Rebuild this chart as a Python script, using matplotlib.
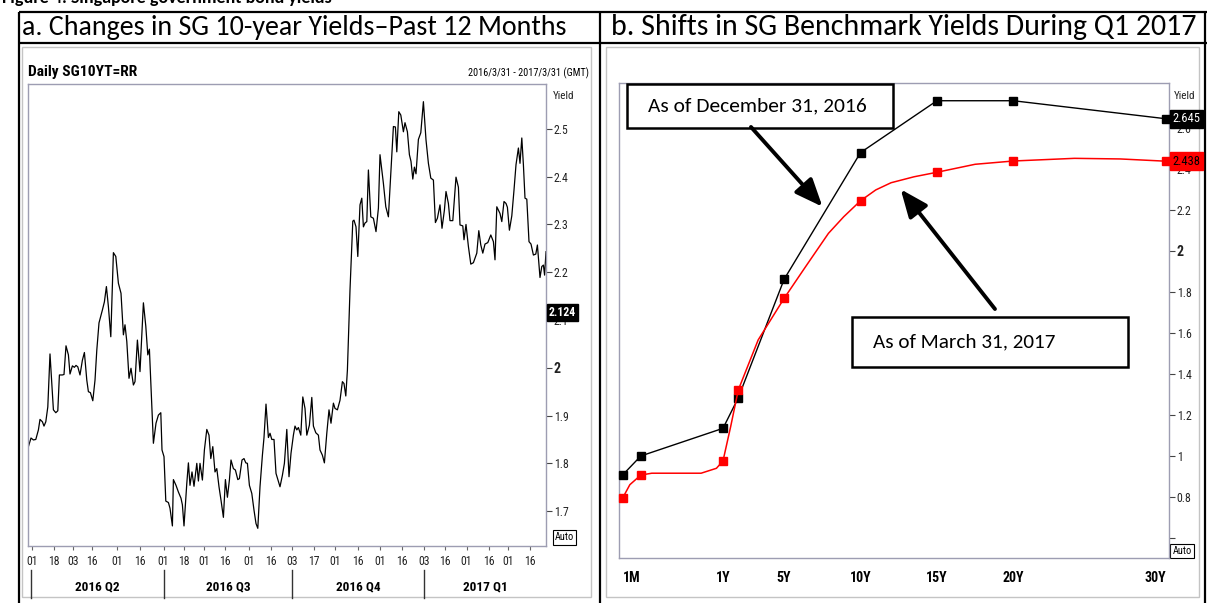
import numpy as np
import matplotlib
matplotlib.use("Agg")
import matplotlib.pyplot as plt
from matplotlib import font_manager
from matplotlib.font_manager import FontProperties
from matplotlib.patches import Rectangle
from matplotlib.ticker import NullLocator

# ---------------- Panel a data: daily SG 10Y yield (trading-session index) ----------------
session_a = [0.2, 1.5, 2.7, 3.9, 5.2, 6.0, 7.2, 8.0, 8.9, 9.9, 11.0, 12.7, 13.9, 14.9, 15.7, 17.2, 18.0, 19.0,
             20.2, 21.0, 22.2, 23.2, 24.0, 24.9, 26.0, 27.2, 28.2, 29.4, 30.2, 31.2, 32.4, 33.5, 34.4, 35.5,
             37.2, 38.2, 39.2, 40.2, 41.4, 42.7, 43.9, 45.2, 46.5, 47.7, 48.5, 49.4, 50.5, 51.5, 52.7, 53.5,
             54.7, 56.0, 57.7, 58.9, 59.9, 60.7,
             62.7, 64.0, 65.2, 66.4, 67.0, 68.0, 68.9, 70.2, 71.0, 72.2, 72.7, 74.0, 75.2, 76.5, 77.2, 78.0,
             79.4, 80.2, 81.0, 82.0, 83.0, 84.4, 85.2, 86.0, 87.2, 88.2, 89.4, 90.5, 91.4, 92.4, 93.5, 94.4,
             95.5, 96.5, 97.7, 98.7, 99.7, 100.7, 101.5, 102.7, 103.7, 104.9, 105.7, 107.0, 108.0, 108.9,
             109.7, 110.7, 111.9, 113.0, 114.0, 114.9, 116.0, 117.2, 118.0, 119.0, 120.2, 121.0, 121.9, 123.0,
             124.0, 125.0, 126.0, 127.2, 128.2, 129.4, 130.5, 131.5, 132.7, 133.5, 134.4, 135.2, 136.4, 137.4,
             138.5, 139.4, 140.7, 141.9, 142.7, 143.9, 145.2, 146.0, 147.2, 148.2, 149.4, 150.5, 151.5, 152.7,
             153.5, 154.7, 156.0, 157.2, 158.0, 158.9, 159.7,
             161.0, 162.4, 163.0, 164.0, 164.9, 166.0, 166.9, 167.7, 168.5, 169.4, 170.2, 171.4, 172.7, 174.0,
             175.2, 176.0, 177.7, 178.9, 180.2, 181.4, 182.7, 183.7, 184.4, 185.4, 186.4, 187.7, 188.5, 189.7,
             190.7, 191.5, 192.4, 193.2, 194.0, 195.2, 196.4, 197.7, 199.0, 200.2, 201.4, 202.7, 203.7, 204.7,
             206.0, 207.0, 208.2, 209.0, 210.2, 211.0, 212.4, 214.0, 215.2, 216.0, 217.4, 218.0, 219.0, 220.2,
             221.4, 222.7, 224.4, 225.4, 226.4, 227.4, 228.5, 229.9, 231.4, 232.7, 233.5, 234.4, 236.0, 236.9,
             238.0, 239.0, 239.7, 240.7, 241.9, 243.0, 244.0, 245.2, 246.0, 246.9, 247.7, 248.5, 249.4, 250.5,
             251.5, 252.7, 253.9, 254.7, 256.0, 256.9, 257.7, 258.3, 259.0]
yield_a = [1.835, 1.853, 1.849, 1.850, 1.870, 1.892, 1.887, 1.878, 1.887, 1.918, 2.029, 1.912, 1.906, 1.910,
           1.985, 1.985, 1.986, 2.046, 2.027, 1.987, 2.004, 2.001, 2.005, 2.002, 1.985, 2.016, 2.032, 1.974,
           1.950, 1.948, 1.931, 1.974, 2.037, 2.094, 2.121, 2.138, 2.170, 2.128, 2.065, 2.241, 2.233, 2.177,
           2.156, 2.069, 2.090, 2.055, 1.978, 1.999, 1.964, 1.971, 2.058, 1.992, 2.136, 2.087, 2.027, 2.039,
           1.842, 1.884, 1.901, 1.906, 1.828, 1.814, 1.721, 1.718, 1.706, 1.669, 1.766, 1.754, 1.740, 1.727,
           1.713, 1.669, 1.758, 1.801, 1.754, 1.782, 1.752, 1.800, 1.763, 1.800, 1.765, 1.828, 1.871, 1.859,
           1.810, 1.835, 1.782, 1.789, 1.751, 1.723, 1.687, 1.766, 1.729, 1.765, 1.807, 1.789, 1.786, 1.766,
           1.768, 1.807, 1.810, 1.801, 1.800, 1.754, 1.737, 1.702, 1.674, 1.664, 1.751, 1.817, 1.854, 1.924,
           1.854, 1.863, 1.850, 1.850, 1.779, 1.765, 1.751, 1.775, 1.800, 1.871, 1.772, 1.821, 1.859, 1.878,
           1.870, 1.875, 1.859, 1.939, 1.915, 1.859, 1.880, 1.938, 1.878, 1.864, 1.859, 1.828, 1.817, 1.801,
           1.863, 1.912, 1.884, 1.926, 1.915, 1.912, 1.932, 1.971, 1.967, 1.941, 1.995,
           2.163, 2.307, 2.309, 2.295, 2.233, 2.341, 2.355, 2.295, 2.303, 2.306, 2.414, 2.316, 2.313, 2.285,
           2.334, 2.446, 2.386, 2.337, 2.316, 2.407, 2.505, 2.504, 2.452, 2.536, 2.529, 2.494, 2.513, 2.494,
           2.446, 2.432, 2.395, 2.420, 2.406, 2.478, 2.492, 2.557, 2.477, 2.428, 2.397, 2.393, 2.304, 2.313,
           2.341, 2.292, 2.330, 2.369, 2.344, 2.308, 2.308, 2.399, 2.378, 2.299, 2.297, 2.268, 2.300, 2.254,
           2.217, 2.220, 2.240, 2.287, 2.257, 2.240, 2.259, 2.262, 2.278, 2.264, 2.226, 2.337, 2.323, 2.306,
           2.348, 2.344, 2.336, 2.288, 2.318, 2.372, 2.425, 2.460, 2.428, 2.481, 2.425, 2.355, 2.353, 2.264,
           2.259, 2.236, 2.238, 2.257, 2.189, 2.212, 2.215, 2.194, 2.243]
last_quote_a = 2.124
tick_sessions_a = [2.2, 12.9, 22.6, 32.2, 44.7, 56.2, 67.8, 77.9, 87.9, 98.5, 110.6, 121.6,
                   132.2, 142.8, 153.7, 164.9, 176.0, 187.0, 197.9, 208.7, 219.3, 230.3, 239.9, 251.0]
tick_labels_a = ['01', '18', '03', '16', '01', '16', '01', '18', '01', '16', '01', '16',
                 '03', '17', '01', '16', '01', '16', '03', '16', '01', '16', '01', '16']
quarter_labels = ['2016 Q2', '2016 Q3', '2016 Q4', '2017 Q1']
quarter_starts = [1.4, 67.8, 132.2, 197.9]
last_session_a = 259.0
yticks_a = [1.7, 1.8, 1.9, 2.0, 2.1, 2.2, 2.3, 2.4, 2.5]
yticklabels_a = ['1.7', '1.8', '1.9', '2', '2.1', '2.2', '2.3', '2.4', '2.5']

# ---------------- Panel b data: SG benchmark curve ----------------
tenors = [1/12, 0.25, 1, 2, 5, 10, 15, 20, 30]
dec2016 = [0.907, 1.000, 1.135, 1.284, 1.862, 2.480, 2.733, 2.733, 2.645]
mar2017_tenor = [1/12, 0.15, 0.25, 0.35, 0.55, 0.8, 0.94, 1, 1.5, 2, 3.3, 5, 6.4, 7.9, 8.9, 10,
                 11, 12, 13.5, 15, 17.5, 20, 24, 27, 30]
mar2017_yield = [0.794, 0.860, 0.907, 0.916, 0.916, 0.916, 0.940, 0.976, 1.143, 1.322, 1.566, 1.769,
                 1.923, 2.086, 2.167, 2.245, 2.298, 2.333, 2.362, 2.384, 2.423, 2.439, 2.452, 2.449, 2.438]
last_dec2016 = 2.645
last_mar2017 = 2.438
axis_tenors_b = [1/12, 1, 5, 10, 15, 20, 30]
axis_labels_b = ['1M', '1Y', '5Y', '10Y', '15Y', '20Y', '30Y']
yticks_b = [0.6, 0.8, 1.0, 1.2, 1.4, 1.6, 1.8, 2.0, 2.2, 2.4, 2.6]
yticklabels_b = ['', '0.8', '1', '1.2', '1.4', '1.6', '1.8', '2', '2.2', '2.4', '2.6']

# ---------------- fonts ----------------
W, H, DPI = 1207, 603, 100
avail = {f.name for f in font_manager.fontManager.ttflist}
NARROW = 'Liberation Sans Narrow' if 'Liberation Sans Narrow' in avail else 'Liberation Sans'
DOC = 'Carlito' if 'Carlito' in avail else ('Lato' if 'Lato' in avail else 'DejaVu Sans')
plt.rcParams['font.family'] = [NARROW, 'DejaVu Sans']


def _w(f):
    w = f.weight
    if isinstance(w, (int, float)):
        return w
    return {'normal': 400, 'regular': 400, 'book': 400, 'medium': 500, 'semibold': 600,
            'bold': 700, 'heavy': 800, 'black': 900}.get(str(w).lower(), 400)


def condensed_fp(bold):
    pref = ['Liberation Sans Narrow', 'Arial Narrow', 'Roboto Condensed', 'DejaVu Sans', 'Noto Sans',
            'Open Sans', 'Roboto', 'Liberation Sans']
    best, best_score = None, None
    for f in font_manager.fontManager.ttflist:
        st = f.stretch
        cond = (st in ('condensed', 'semi-condensed', 'extra-condensed', 'ultra-condensed')) or \
               (isinstance(st, (int, float)) and st < 100) or f.name in ('Liberation Sans Narrow', 'Arial Narrow')
        if not cond or f.style != 'normal':
            continue
        if not f.fname.lower().endswith(('.ttf', '.otf')):
            continue
        score = abs(_w(f) - (700 if bold else 400))
        score += pref.index(f.name) * 5 if f.name in pref else 100
        if st in ('semi-condensed',):
            score += 3
        if st in ('extra-condensed', 'ultra-condensed'):
            score += 60
        if best_score is None or score < best_score:
            best, best_score = f, score
    if best is None:
        return FontProperties(family=NARROW, weight='bold' if bold else 'normal')
    return FontProperties(fname=best.fname)


FP_N = condensed_fp(False)
FP_B = condensed_fp(True)

fig = plt.figure(figsize=(W / DPI, H / DPI), dpi=DPI)
fig.patch.set_facecolor('white')
renderer = fig.canvas.get_renderer()


def rect(x0, y0, x1, y1):
    return [x0 / W, 1 - y1 / H, (x1 - x0) / W, (y1 - y0) / H]


def fit(txt, width_px):
    bb = txt.get_window_extent(renderer)
    if bb.width > 0:
        txt.set_fontsize(txt.get_fontsize() * width_px / bb.width)


def style(lbl, fp, size):
    lbl.set_fontproperties(fp)
    lbl.set_fontsize(size)


# overlay for table, frames and chrome
ov = fig.add_axes([0, 0, 1, 1], zorder=0)
ov.set_xlim(0, W)
ov.set_ylim(H, 0)
ov.axis('off')

# clipped figure caption at the very top (only its lower part shows)
ov.text(2, 3, 'Figure 4: Singapore government bond yields', fontfamily=[DOC, 'DejaVu Sans'],
        fontweight='bold', fontsize=13, va='baseline', ha='left')

# table lines
for (x0, x1, y0, y1) in [(19, 1207, 12, 12), (19, 1207, 43, 43),
                         (19, 19, 12, 603), (600, 600, 12, 603), (1205, 1205, 12, 603)]:
    ov.plot([x0, x1], [y0, y1], color='black', lw=1.6, solid_capstyle='butt')

ta = ov.text(22, 35, 'a. Changes in SG 10-year Yields\u2013Past 12 Months', fontfamily=[DOC, 'DejaVu Sans'],
             fontsize=16, va='baseline', ha='left')
fit(ta, 546)
tb = ov.text(611, 35, 'b. Shifts in SG Benchmark Yields During Q1 2017', fontfamily=[DOC, 'DejaVu Sans'],
             fontsize=16, va='baseline', ha='left')
fit(tb, 586)

# panel frames
ov.add_patch(Rectangle((22, 47), 569, 550, fill=False, ec='#c4c4c4', lw=1))
ov.add_patch(Rectangle((606, 47), 593, 550, fill=False, ec='#c4c4c4', lw=1))

# panel a chrome
t1 = ov.text(28, 76, 'Daily SG10YT=RR', fontproperties=FP_B, fontsize=12, va='baseline', ha='left')
fit(t1, 109)
t2 = ov.text(589, 76, '2016/3/31 - 2017/3/31 (GMT)', fontproperties=FP_N, fontsize=8, va='baseline', ha='right')
fit(t2, 123)
ov.text(553, 99, 'Yield', fontproperties=FP_N, fontsize=8, va='baseline', ha='left', color='#222222')
ov.text(564.5, 537.5, 'Auto', fontproperties=FP_N, fontsize=7.5, va='center', ha='center',
        bbox=dict(boxstyle='square,pad=0.2', fc='white', ec='black', lw=0.8))
# panel b chrome
ov.text(1174, 99, 'Yield', fontproperties=FP_N, fontsize=8, va='baseline', ha='left', color='#222222')
ov.text(1182, 551, 'Auto', fontproperties=FP_N, fontsize=7.5, va='center', ha='center',
        bbox=dict(boxstyle='square,pad=0.2', fc='white', ec='black', lw=0.8))

SPINE = '#9d9db2'

# ---------------- Panel a ----------------
ax_a = fig.add_axes(rect(28, 84, 546, 546), zorder=2)
ax_a.plot(session_a, yield_a, color='black', lw=0.9)
ax_a.set_xlim(0, last_session_a)
ax_a.set_ylim(1.627, 2.594)
for s in ax_a.spines.values():
    s.set_color(SPINE)
    s.set_linewidth(1)
ax_a.yaxis.tick_right()
ax_a.set_yticks(yticks_a)
ax_a.set_yticklabels(yticklabels_a)
ax_a.tick_params(axis='y', direction='out', length=4, width=0.8, color='#444444',
                 pad=1.5, labelcolor='#222222')
for lbl in ax_a.get_yticklabels():
    if lbl.get_text() == '2':
        style(lbl, FP_B, 10)
    else:
        style(lbl, FP_N, 8.5)
ax_a.set_xticks(tick_sessions_a)
ax_a.set_xticklabels(tick_labels_a)
ax_a.tick_params(axis='x', direction='out', length=3, width=0.8, color='#666666',
                 pad=3.5, labelcolor='#222222')
for lbl in ax_a.get_xticklabels():
    style(lbl, FP_N, 8.5)
xt = ax_a.get_xaxis_transform()
bounds = quarter_starts + [last_session_a]
for i, q in enumerate(quarter_labels):
    ax_a.text((bounds[i] + bounds[i + 1]) / 2, -0.0887, q, transform=xt, ha='center', va='center',
              fontproperties=FP_B, fontsize=9.5, clip_on=False)
for qs in quarter_starts:
    ax_a.plot([qs, qs], [-0.052, -0.1126], transform=xt, color='#333333', lw=1, clip_on=False)
ax_a.annotate(f'{last_quote_a:.3f}', xy=(1, last_quote_a), xycoords=('axes fraction', 'data'),
              xytext=(3, -4), textcoords='offset pixels', ha='left', va='center', color='white',
              fontproperties=FP_B, fontsize=8.5, annotation_clip=False, zorder=6,
              bbox=dict(boxstyle='square,pad=0.15', fc='black', ec='black'))

# ---------------- Panel b ----------------
K = 7.173


def fwd(t):
    t = np.asarray(t, dtype=float)
    return np.where(t <= 1, K * t, K + (t - 1))


def inv(u):
    u = np.asarray(u, dtype=float)
    return np.where(u <= K, u / K, u - K + 1)


ax_b = fig.add_axes(rect(619, 83, 1169, 558), zorder=2)
ax_b.set_xscale('function', functions=(fwd, inv))
ax_b.set_xlim(0.051, 30.19)
ax_b.set_ylim(0.5024, 2.8195)
ax_b.plot(tenors, dec2016, color='black', lw=1.0, marker='s', ms=5.5, mfc='black', mec='black',
          clip_on=False, zorder=4)
bench_idx = [i for i, t in enumerate(mar2017_tenor) if any(abs(t - b) < 1e-9 for b in tenors)]
ax_b.plot(mar2017_tenor, mar2017_yield, color='#ff0000', lw=1.1, marker='s', ms=5.5,
          mfc='#ff0000', mec='#ff0000', markevery=bench_idx, clip_on=False, zorder=4)
for s in ax_b.spines.values():
    s.set_color(SPINE)
    s.set_linewidth(1)
ax_b.yaxis.tick_right()
ax_b.set_yticks(yticks_b)
ax_b.set_yticklabels(yticklabels_b)
ax_b.tick_params(axis='y', direction='out', length=4, width=0.8, color='#444444',
                 pad=1.5, labelcolor='#222222')
for lbl in ax_b.get_yticklabels():
    if lbl.get_text() == '2':
        style(lbl, FP_B, 10)
    else:
        style(lbl, FP_N, 8.5)
ax_b.set_xticks(axis_tenors_b)
ax_b.set_xticklabels(axis_labels_b)
ax_b.xaxis.set_minor_locator(NullLocator())
ax_b.tick_params(axis='x', length=0, pad=9)
xl = ax_b.get_xticklabels()
for lbl in xl:
    style(lbl, FP_B, 10)
xl[0].set_ha('left')
xl[-1].set_ha('right')

ax_b.annotate(f'{last_dec2016:.3f}', xy=(1, last_dec2016), xycoords=('axes fraction', 'data'),
              xytext=(3, 0), textcoords='offset pixels', ha='left', va='center', color='white',
              fontproperties=FP_N, fontsize=9, annotation_clip=False, zorder=6,
              bbox=dict(boxstyle='square,pad=0.2', fc='black', ec='black'))
ax_b.annotate(f'{last_mar2017:.3f}', xy=(1, last_mar2017), xycoords=('axes fraction', 'data'),
              xytext=(3, 0), textcoords='offset pixels', ha='left', va='center', color='black',
              fontproperties=FP_N, fontsize=9, annotation_clip=False, zorder=6,
              bbox=dict(boxstyle='square,pad=0.2', fc='#ff0000', ec='#ff0000'))

# callout boxes and arrows
ax_b.add_patch(Rectangle((0.0145, 0.905), 0.4835, 0.092, transform=ax_b.transAxes, fc='white',
                         ec='black', lw=1.8, zorder=5, clip_on=False))
c1 = ax_b.text(0.0527, 0.951, 'As of December 31, 2016', transform=ax_b.transAxes, va='center',
               ha='left', fontfamily=[DOC, 'DejaVu Sans'], fontsize=13, zorder=6)
fit(c1, 218)
ax_b.add_patch(Rectangle((0.4245, 0.4015), 0.5005, 0.1055, transform=ax_b.transAxes, fc='white',
                         ec='black', lw=1.8, zorder=5, clip_on=False))
c2 = ax_b.text(0.462, 0.4553, 'As of March 31, 2017', transform=ax_b.transAxes, va='center',
               ha='left', fontfamily=[DOC, 'DejaVu Sans'], fontsize=13, zorder=6)
fit(c2, 183)
arrow_kw = dict(arrowstyle='-|>,head_length=1.2,head_width=0.5', lw=2.8, color='black',
                mutation_scale=14, shrinkA=0, shrinkB=0)
ax_b.annotate('', xy=(7.51, 2.216), xytext=(2.83, 2.605), arrowprops=arrow_kw, zorder=6)
ax_b.annotate('', xy=(12.63, 2.301), xytext=(18.8, 1.717), arrowprops=arrow_kw, zorder=6)

fig.savefig('out.png', dpi=DPI, facecolor='white')
